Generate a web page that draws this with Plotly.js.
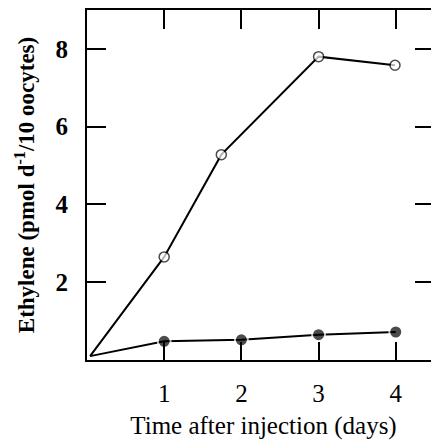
<!DOCTYPE html>
<html>
<head>
<meta charset="utf-8">
<script src="https://cdn.plot.ly/plotly-3.0.1.min.js"></script>
<style>
html,body{margin:0;padding:0;overflow:hidden;background:#fff;width:431px;height:443px;}
#chart{width:431px;height:443px;overflow:hidden;}
</style>
</head>
<body>
<div id="chart"></div>
<script>
// Data
const openX = [0.04, 1, 1.74, 3, 3.99];
const openY = [0.1, 2.65, 5.28, 7.8, 7.58];
const filledX = [0.04, 1, 2, 3, 4];
const filledY = [0.1, 0.48, 0.52, 0.65, 0.72];
const xTicks = [1, 2, 3, 4];
const yTicks = [2, 4, 6, 8];
const xTitle = 'Time after injection (days)';
const yTitle = 'Ethylene (pmol d<sup>-1</sup>/10 oocytes)';

const serif = 'Liberation Serif, Times New Roman, serif';
const xRange = [0, 4.573];
const yRange = [0, 9];

const traces = [
  {
    x: openX, y: openY, mode: 'lines+markers', type: 'scatter',
    line: {color: '#000', width: 2},
    marker: {size: [0, 10, 10, 10, 10], color: '#fff', line: {color: '#000', width: 1.5}},
    hoverinfo: 'none', showlegend: false
  },
  {
    x: filledX, y: filledY, mode: 'lines+markers', type: 'scatter',
    line: {color: '#000', width: 2},
    marker: {size: [0, 13, 13, 13, 13], color: '#000', line: {color: '#fff', width: 2}},
    hoverinfo: 'none', showlegend: false
  },
  // invisible carrier so the top/right frame axes get drawn
  {
    x: filledX, y: filledY, xaxis: 'x2', yaxis: 'y2', mode: 'markers', type: 'scatter',
    marker: {size: 1, opacity: 0}, hoverinfo: 'none', showlegend: false
  }
];

const layout = {
  width: 445, height: 443,
  margin: {l: 87, r: 5, t: 10, b: 83},
  paper_bgcolor: '#fff', plot_bgcolor: '#fff',
  font: {family: serif, color: '#000'},
  xaxis: {
    range: xRange, tickvals: xTicks, ticktext: xTicks.map(String),
    ticks: 'inside', ticklen: 18, tickwidth: 2, tickcolor: '#000',
    showline: true, linewidth: 2, linecolor: '#000', mirror: false,
    showgrid: false, zeroline: false,
    tickfont: {family: serif, size: 25, color: '#000'},
    ticklabelstandoff: 10,
    title: {text: xTitle, font: {family: serif, size: 25, color: '#000'}, standoff: 10}
  },
  yaxis: {
    range: yRange, tickvals: yTicks, ticktext: yTicks.map(String),
    ticks: 'inside', ticklen: 19, tickwidth: 2, tickcolor: '#000',
    showline: true, linewidth: 2, linecolor: '#000', mirror: false,
    showgrid: false, zeroline: false,
    tickfont: {family: serif, size: 25, color: '#000', weight: 'bold'},
    ticklabelstandoff: 12,
    title: {text: yTitle, font: {family: serif, size: 23, color: '#000', weight: 'bold'}, standoff: 14}
  },
  xaxis2: {
    overlaying: 'x', side: 'top', anchor: 'y2', range: xRange, tickvals: xTicks,
    showticklabels: false, ticks: 'inside', ticklen: 19, tickwidth: 2, tickcolor: '#000',
    showline: true, linewidth: 2, linecolor: '#000', showgrid: false, zeroline: false
  },
  yaxis2: {
    overlaying: 'y', side: 'right', anchor: 'x2', range: yRange, tickvals: yTicks,
    showticklabels: false, ticks: 'inside', ticklen: 25, tickwidth: 2, tickcolor: '#000',
    showline: false, showgrid: false, zeroline: false
  }
};

Plotly.newPlot('chart', traces, layout, {staticPlot: true, displayModeBar: false});
</script>
</body>
</html>
